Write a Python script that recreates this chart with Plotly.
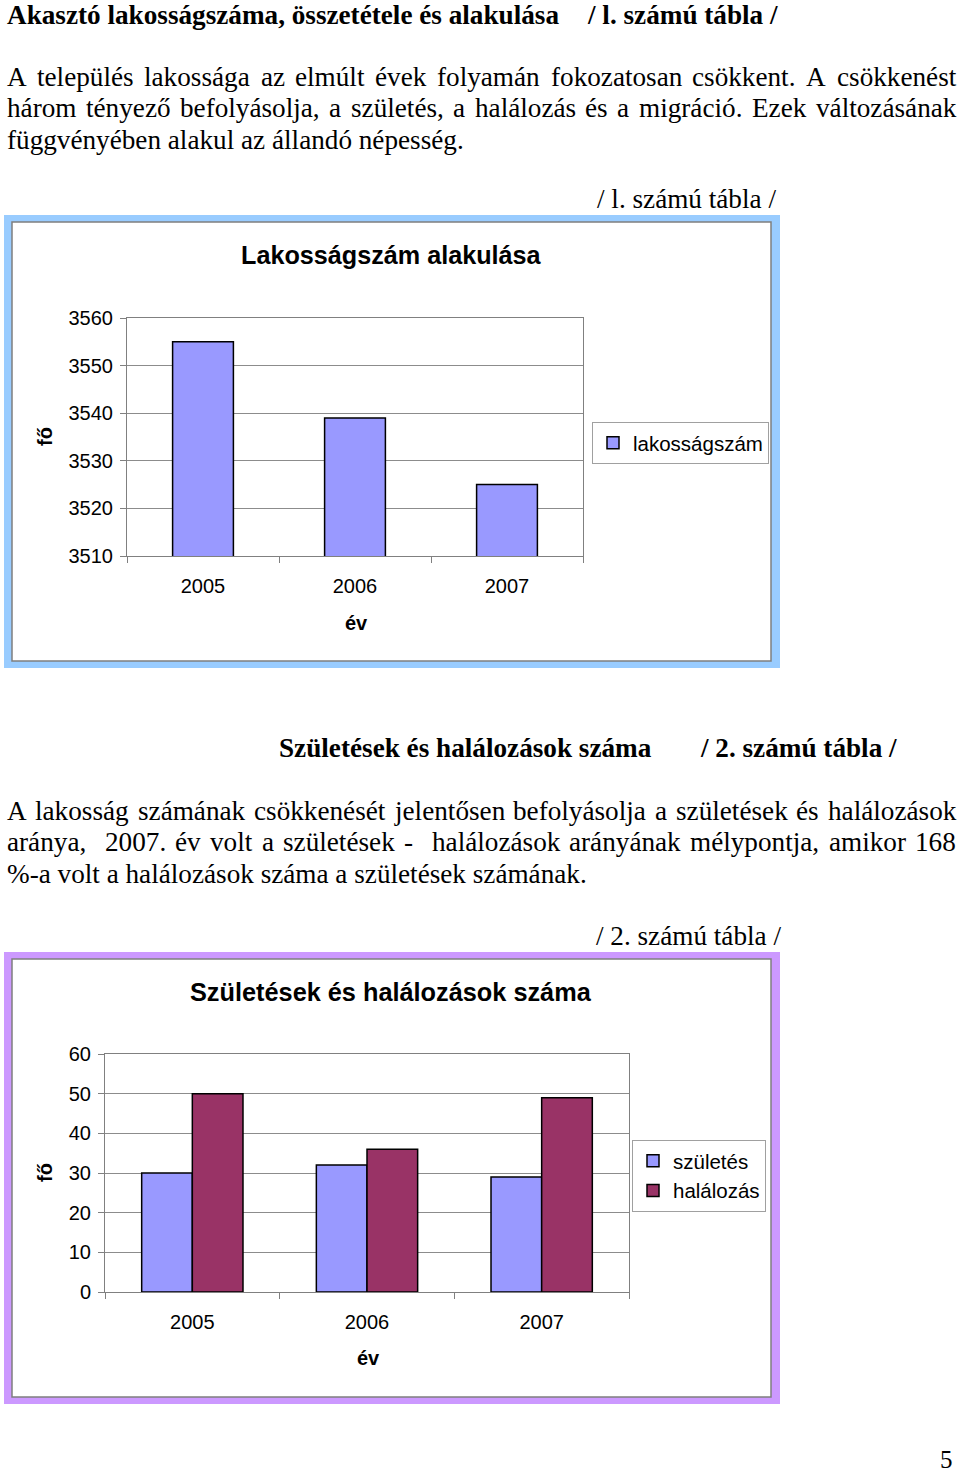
import plotly.graph_objects as go

W, H = 960, 1476

# ---- data ----
years = ["2005", "2006", "2007"]
population = [3555, 3539, 3525]
births = [30, 32, 29]
deaths = [50, 36, 49]
pop_ticks = [3510, 3520, 3530, 3540, 3550, 3560]
bd_ticks = [0, 10, 20, 30, 40, 50, 60]

def px(x):
    return x / W

def py(y):
    return 1 - y / H

fig = go.Figure()

fig.add_trace(go.Bar(x=years, y=population, name="lakosságszám", width=0.4,
                     marker=dict(color="#9999FF", line=dict(color="black", width=1.5)),
                     xaxis="x", yaxis="y", legend="legend"))
fig.add_trace(go.Bar(x=years, y=births, name="születés", width=0.29, offset=-0.29,
                     marker=dict(color="#9999FF", line=dict(color="black", width=1.5)),
                     xaxis="x2", yaxis="y2", legend="legend2"))
fig.add_trace(go.Bar(x=years, y=deaths, name="halálozás", width=0.29, offset=0,
                     marker=dict(color="#993366", line=dict(color="black", width=1.5)),
                     xaxis="x2", yaxis="y2", legend="legend2"))

serif = "Liberation Serif, Times New Roman"
sans = "Liberation Sans, Arial"
axis_font = dict(family=sans, size=20, color="black")
common_x = dict(type="category", showline=True, linecolor="#808080", linewidth=1, mirror=True,
                ticks="outside", tickson="boundaries", ticklen=6, tickcolor="#808080",
                tickfont=axis_font, showgrid=False, fixedrange=True, ticklabelstandoff=12,
                automargin=False)
common_y = dict(showline=True, linecolor="#808080", linewidth=1, mirror=True,
                ticks="outside", ticklen=6, tickcolor="#808080", tickfont=axis_font,
                showgrid=True, gridcolor="#8c8c8c", gridwidth=1, zeroline=False,
                fixedrange=True, ticklabelstandoff=3, automargin=False)
legend_font = dict(family=sans, size=20.5, color="black")

fig.update_layout(
    template="none",
    width=W, height=H, autosize=False,
    margin=dict(l=0, r=0, t=0, b=0, pad=0, autoexpand=False),
    paper_bgcolor="white", plot_bgcolor="#CCCCCC",
    showlegend=True, barmode="overlay",
    xaxis=dict(domain=[px(127), px(583)], anchor="y", **common_x),
    yaxis=dict(domain=[py(556), py(318)], anchor="x", range=[3510, 3560],
               tickvals=pop_ticks, **common_y),
    xaxis2=dict(domain=[px(105), px(629)], anchor="y2", **common_x),
    yaxis2=dict(domain=[py(1292), py(1054)], anchor="x2", range=[0, 60],
                tickvals=bd_ticks, **common_y),
    legend=dict(x=px(592), y=py(422), xanchor="left", yanchor="top",
                bgcolor="white", bordercolor="#A0A0A0", borderwidth=1,
                font=legend_font, itemwidth=30, itemclick=False, itemdoubleclick=False),
    legend2=dict(x=px(632), y=py(1140), xanchor="left", yanchor="top",
                 bgcolor="white", bordercolor="#A0A0A0", borderwidth=1,
                 font=legend_font, itemwidth=30, itemclick=False, itemdoubleclick=False),
)

shapes = []
shapes.append(dict(type="rect", xref="paper", yref="paper", layer="below",
                   x0=px(4), x1=px(780), y0=py(668), y1=py(215),
                   fillcolor="#99CCFF", line=dict(width=0)))
shapes.append(dict(type="rect", xref="paper", yref="paper", layer="below",
                   x0=px(12), x1=px(771), y0=py(661), y1=py(222),
                   fillcolor="white", line=dict(color="#7F7F7F", width=1.5)))
shapes.append(dict(type="rect", xref="paper", yref="paper", layer="below",
                   x0=px(4), x1=px(780), y0=py(1404), y1=py(952),
                   fillcolor="#CC99FF", line=dict(width=0)))
shapes.append(dict(type="rect", xref="paper", yref="paper", layer="below",
                   x0=px(12), x1=px(771), y0=py(1397), y1=py(959),
                   fillcolor="white", line=dict(color="#7F7F7F", width=1.5)))
fig.update_layout(shapes=shapes)

ann = []

def text(x, y, s, size, family=serif, bold=False, anchor="left", angle=0, yanchor="middle"):
    t = f"<b>{s}</b>" if bold else s
    ann.append(dict(x=px(x), y=py(y), xref="paper", yref="paper", text=t,
                    showarrow=False, xanchor=anchor, yanchor=yanchor, textangle=angle,
                    font=dict(family=family, size=size, color="black")))

# Times (Liberation Serif) advance widths, 1/1000 em, for justified lines
TW = {" ": 250, ",": 250, ".": 250, "-": 333, "%": 833, "A": 722, "E": 611}
TW.update({d: 500 for d in "0123456789"})
TW.update(dict(a=444, b=500, c=444, d=500, e=444, f=333, g=500, h=500, i=278, j=278,
               k=500, l=278, m=778, n=500, o=500, p=500, q=500, r=333, s=389, t=278,
               u=500, v=500, w=722, x=500, y=500, z=444))
TW.update({"á": 444, "é": 444, "í": 278, "ó": 500, "ö": 500, "ő": 500,
           "ú": 500, "ü": 500, "ű": 500})

def width(s, size):
    return sum(TW.get(c, 500) for c in s) * size / 1000

def justified(y, line, size, left=5, right=954):
    nat = width(line, size)
    nsp = line.count(" ")
    extra = (right - left - nat) / nsp
    x = left
    word = ""
    for c in line + " ":
        if c == " ":
            if word:
                text(x, y, word, size)
                x += width(word, size)
                word = ""
            x += width(" ", size) + extra
        else:
            word += c

body = 27.2

text(5, 15, "Akasztó lakosságszáma, összetétele és alakulása", body, bold=True)
text(585, 15, "/ l. számú tábla /", body, bold=True)

justified(77, "A település lakossága az elmúlt évek folyamán fokozatosan csökkent. A csökkenést", body)
justified(108, "három tényező befolyásolja, a születés, a halálozás és a migráció. Ezek változásának", body)
text(5, 140, "függvényében alakul az állandó népesség.", body)
text(778, 199, "/ l. számú tábla /", body, anchor="right")

text(391, 255, "Lakosságszám alakulása", 25.2, family=sans, bold=True, anchor="center")
text(45, 437, "fő", 20, family=sans, bold=True, anchor="center", angle=-90)
text(356, 623, "év", 20, family=sans, bold=True, anchor="center")

text(277, 748, "Születések és halálozások száma", body, bold=True)
text(698, 748, "/ 2. számú tábla /", body, bold=True)

justified(811, "A lakosság számának csökkenését jelentősen befolyásolja a születések és halálozások", body)
justified(842, "aránya,  2007. év volt a születések -  halálozások arányának mélypontja, amikor 168", body)
text(5, 874, "%-a volt a halálozások száma a születések számának.", body)
text(783, 936, "/ 2. számú tábla /", body, anchor="right")

text(391, 992, "Születések és halálozások száma", 25.3, family=sans, bold=True, anchor="center")
text(45, 1173, "fő", 20, family=sans, bold=True, anchor="center", angle=-90)
text(368, 1358, "év", 20, family=sans, bold=True, anchor="center")

text(955, 1475, "5", 25, anchor="right", yanchor="bottom")

fig.update_layout(annotations=ann)
fig.write_html("out.html")
